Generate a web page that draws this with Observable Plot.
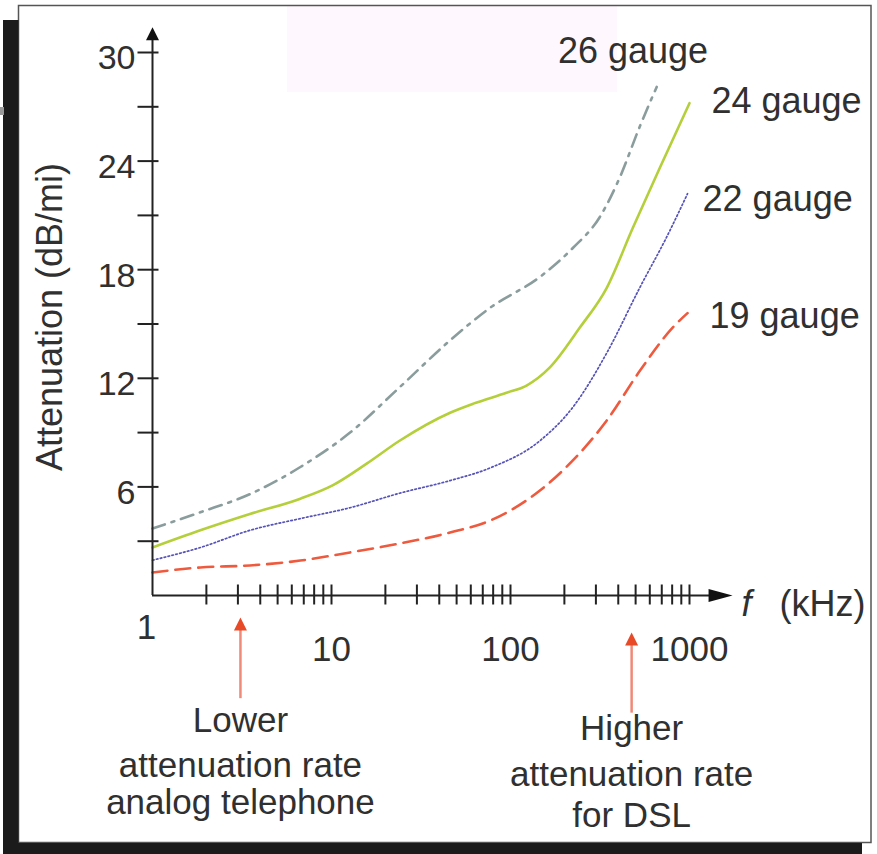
<!DOCTYPE html>
<html>
<head>
<meta charset="utf-8">
<script src="https://cdn.jsdelivr.net/npm/d3@7"></script>
<script src="https://cdn.jsdelivr.net/npm/@observablehq/plot@0.6"></script>
<style>
  html, body { margin: 0; padding: 0; background: #fff; }
  #chart svg { display: block; }
</style>
</head>
<body>
<div id="chart"></div>
<script>
// ---- data (frequency in kHz, attenuation in dB/mi) ----
const g26F = [1, 1.85, 3.5, 6.7, 12.7, 24, 46, 77, 146, 223, 315, 408, 527, 656];
const g26V = [3.7, 4.6, 5.6, 7.1, 9.0, 11.5, 14.1, 15.9, 17.6, 19.2, 20.9, 23.1, 25.9, 28.1];

const g24F = [1, 1.85, 3.5, 6.7, 10.2, 15.8, 24, 46, 62, 95, 123, 166, 244, 345, 482, 681, 1000];
const g24V = [2.65, 3.6, 4.5, 5.35, 6.1, 7.3, 8.55, 10.1, 10.6, 11.2, 11.6, 12.6, 14.8, 17.0, 20.3, 23.6, 27.2];

const g22F = [1, 1.85, 3.5, 6.7, 12.7, 24, 46, 77, 146, 223, 345, 527, 745, 975];
const g22V = [1.95, 2.65, 3.6, 4.25, 4.85, 5.65, 6.35, 7.05, 8.55, 10.4, 13.4, 17.0, 19.8, 22.2];

const g19F = [1, 1.85, 3.5, 6.7, 12.7, 24, 46, 77, 146, 223, 345, 527, 805, 975];
const g19V = [1.27, 1.55, 1.66, 1.93, 2.38, 2.87, 3.48, 4.14, 5.8, 7.46, 9.67, 12.4, 14.8, 15.6];

const seriesNames = ["26 gauge", "24 gauge", "22 gauge", "19 gauge"];
const labelF = [184, 1327, 1183, 1294];
const labelV = [30.05, 27.3, 21.9, 15.4];

const xTicks = [2,3,4,5,6,7,8,9,10,20,30,40,50,60,70,80,90,100,200,300,400,500,600,700,800,900,1000];
const xTickLabels = [10, 100, 1000];
const yTicks = [3,6,9,12,15,18,21,24,27,30];
const yTickLabels = [6,12,18,24,30];

const noteF = [3.1, 475];
const noteLines = [
  ["Lower", "attenuation rate", "analog telephone"],
  ["Higher", "attenuation rate", "for DSL"]
];

// ---- build tables ----
const toRows = (F, V, name) => F.map((f, i) => ({f, v: V[i], name}));
const rows26 = toRows(g26F, g26V, seriesNames[0]);
const rows24 = toRows(g24F, g24V, seriesNames[1]);
const rows22 = toRows(g22F, g22V, seriesNames[2]);
const rows19 = toRows(g19F, g19V, seriesNames[3]);
const labels = seriesNames.map((name, i) => ({name, f: labelF[i], v: labelV[i]}));

// ---- custom symbols ----
const hTick = {draw(c) { c.moveTo(-15, 0); c.lineTo(6, 0); }};
const vTick = {draw(c) { c.moveTo(0, -11); c.lineTo(0, 9); }};
const headRight = {draw(c) { c.moveTo(0, 0); c.lineTo(-24, -6.5); c.lineTo(-24, 6.5); c.closePath(); }};
const headUp = {draw(c) { c.moveTo(0, 0); c.lineTo(-6.5, 13); c.lineTo(6.5, 13); c.closePath(); }};

const FONT = "'Liberation Sans', Arial, Helvetica, sans-serif";
const TXT = "#303030";
const RED = "#e84a28";

const noteMarks = [];
const noteTipV = [-1.22, -2.04];
const noteTailV = [-5.7, -6.5];
const noteDy = [[125, 170, 207], [133, 179, 220]];
noteF.forEach((f, k) => {
  noteMarks.push(Plot.ruleX([f], {x: d => d, y1: noteTailV[k], y2: noteTipV[k] - 0.4, stroke: "#f08a78", strokeWidth: 2.5}));
  noteMarks.push(Plot.dot([f], {x: d => d, y: noteTipV[k], symbol: headUp, fill: RED, stroke: "none"}));
  noteLines[k].forEach((line, j) => {
    noteMarks.push(Plot.text([line], {x: () => f, frameAnchor: "bottom", lineAnchor: "middle", dy: noteDy[k][j], text: d => d,
      fontSize: 35, fill: TXT, textAnchor: "middle"}));
  });
});

const chart = Plot.plot({
  width: 877,
  height: 854,
  marginLeft: 152,
  marginRight: 188,
  marginTop: 52,
  marginBottom: 259,
  style: {background: "white", fontFamily: FONT},
  x: {type: "log", domain: [1, 1000], axis: null},
  y: {domain: [0, 30], axis: null},
  marks: [
    // curves
    Plot.line(rows19, {x: "f", y: "v", stroke: "#ee5a3e", strokeWidth: 2.6, strokeDasharray: "15,8", curve: "monotone-x"}),
    Plot.line(rows22, {x: "f", y: "v", stroke: "#5552b8", strokeWidth: 1.7, strokeDasharray: "1.6,2.4", curve: "monotone-x"}),
    Plot.line(rows24, {x: "f", y: "v", stroke: "#b4cf3a", strokeWidth: 2.6, curve: "monotone-x"}),
    Plot.line(rows26, {x: "f", y: "v", stroke: "#8a9d9c", strokeWidth: 2.6, strokeDasharray: "13,7,3,7", curve: "monotone-x"}),
    // axes lines
    Plot.ruleY([0], {x1: 1, x2: 1300, stroke: "#222", strokeWidth: 2}),
    Plot.dot([0], {x: () => 1740, y: d => d, symbol: headRight, fill: "#111", stroke: "none"}),
    Plot.ruleX([1], {y1: 0, y2: 30.8, stroke: "#222", strokeWidth: 2}),
    Plot.dot([1], {x: d => d, y: () => 31.4, symbol: headUp, fill: "#111", stroke: "none"}),
    // ticks
    Plot.dot(yTicks, {x: () => 1, y: d => d, symbol: hTick, stroke: "#222", strokeWidth: 2, fill: "none"}),
    Plot.dot(xTicks, {x: d => d, y: () => 0, symbol: vTick, stroke: "#222", strokeWidth: 2, fill: "none"}),
    // tick labels
    Plot.text(yTickLabels, {y: d => d, frameAnchor: "left", lineAnchor: "middle", dx: -17, dy: 6, textAnchor: "end", text: d => String(d), fontSize: 34, fill: TXT}),
    Plot.text(xTickLabels, {x: d => d, frameAnchor: "bottom", lineAnchor: "middle", dy: 54, textAnchor: "middle", text: d => String(d), fontSize: 35, fill: TXT}),
    Plot.text([1], {x: d => d, frameAnchor: "bottom", lineAnchor: "middle", dy: 32, dx: -6, textAnchor: "middle", text: d => String(d), fontSize: 35, fill: TXT}),
    // axis titles
    Plot.text(["Attenuation (dB/mi)"], {frameAnchor: "left", lineAnchor: "middle", dx: -102, dy: -7, rotate: -90, text: d => d, fontSize: 36, fill: TXT, textAnchor: "middle"}),
    Plot.text(["f"], {frameAnchor: "bottom-right", lineAnchor: "middle", dx: 57, dy: 9, text: d => d, fontSize: 36, fontStyle: "italic", fill: TXT, textAnchor: "middle"}),
    Plot.text(["(kHz)"], {frameAnchor: "bottom-right", lineAnchor: "middle", dx: 133, dy: 9, text: d => d, fontSize: 36, fill: TXT, textAnchor: "middle"}),
    // series labels
    Plot.text(labels, {x: "f", y: "v", text: "name", textAnchor: "start", fontSize: 36, fill: TXT}),
    ...noteMarks
  ]
});

document.getElementById("chart").appendChild(chart);

// ---- frame decoration ----
const svg = d3.select(chart);
const back = svg.insert("g", ":first-child");
back.append("rect").attr("x", 287).attr("y", 6).attr("width", 330).attr("height", 86).attr("fill", "#fef8fe");
const front = svg.append("g");
front.append("rect").attr("x", 18.5).attr("y", 5.5).attr("width", 852.5).attr("height", 837)
  .attr("fill", "none").attr("stroke", "#555").attr("stroke-width", 1.5);
front.append("rect").attr("x", 3).attr("y", 20).attr("width", 15.5).attr("height", 834).attr("fill", "#1b1b1b");
front.append("rect").attr("x", 3).attr("y", 843).attr("width", 859).attr("height", 11).attr("fill", "#1b1b1b");
front.append("rect").attr("x", 0).attr("y", 107).attr("width", 4).attr("height", 8).attr("fill", "#999");
</script>
</body>
</html>
